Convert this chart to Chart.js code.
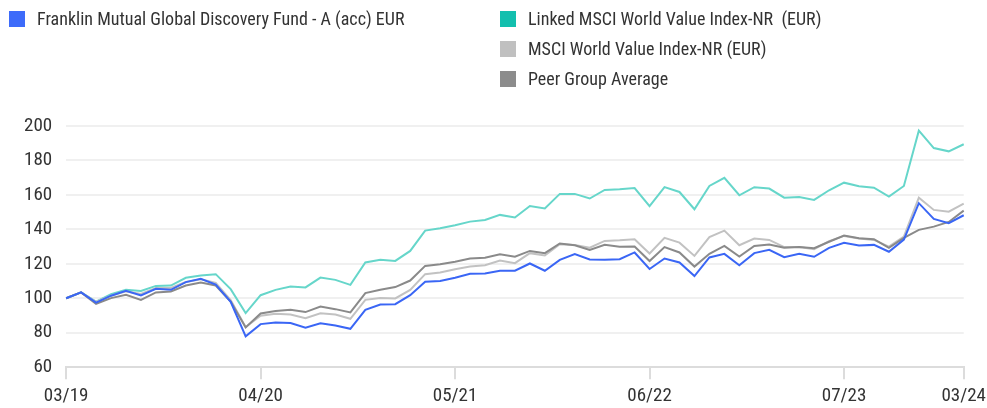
<!DOCTYPE html>
<html>
<head>
<meta charset="utf-8">
<script src="https://cdn.jsdelivr.net/npm/chart.js@4"></script>
<style>
  html, body { margin: 0; padding: 0; background: #fff; }
  body { width: 987px; height: 408px; position: relative; overflow: hidden;
         font-family: "Roboto Condensed", "Liberation Sans Narrow", Roboto, sans-serif; color: #333; }
  #legend { position: absolute; left: 9px; top: 0; width: 980px; }
  .item { position: absolute; display: flex; align-items: center; font-size: 18px; white-space: nowrap; }
  .sw { width: 16px; height: 16px; margin-right: 12px; }
  /* canvas a little wider than the page so the last month label may overhang, as in the source */
  #wrap { position: absolute; left: 0; top: 0; width: 992px; height: 408px; }
</style>
</head>
<body>
<div id="wrap"><canvas id="chart"></canvas></div>
<div id="legend"></div>
<script>
const months = ['03/19','04/19','05/19','06/19','07/19','08/19','09/19','10/19','11/19','12/19',
  '01/20','02/20','03/20','04/20','05/20','06/20','07/20','08/20','09/20','10/20','11/20','12/20',
  '01/21','02/21','03/21','04/21','05/21','06/21','07/21','08/21','09/21','10/21','11/21','12/21',
  '01/22','02/22','03/22','04/22','05/22','06/22','07/22','08/22','09/22','10/22','11/22','12/22',
  '01/23','02/23','03/23','04/23','05/23','06/23','07/23','08/23','09/23','10/23','11/23','12/23',
  '01/24','02/24','03/24'];
const tickLabels = ['03/19','04/20','05/21','06/22','07/23','03/24'];

const fund = [100, 103.4, 97.5, 101.5, 104.3, 101.6, 105.5, 104.9, 109.4, 111.3, 108, 98, 77.9, 85, 86, 85.6, 82.9, 85.5, 84.2, 82.3,
  93.3, 96.4, 96.6, 101.8, 109.6, 110, 111.9, 114.2, 114.4, 116, 116, 120.2, 116, 122.3, 125.6, 122.5, 122.3, 122.7, 126.6, 117,
  123.1, 120.8, 112.9, 123.7, 125.8, 119.2, 126.2, 128.1, 123.9, 125.8, 124.1, 129.3, 132.2, 130.6, 131, 127, 134.1, 155.2, 146.1, 143.6, 148.2];
const linkedIndex = [100, 103.4, 98.1, 102.4, 104.9, 104.3, 107.2, 107.4, 111.9, 113.2, 114, 105.3, 91.4, 101.8, 104.9, 106.8, 106.3, 112, 110.7, 107.8,
  120.8, 122.3, 121.7, 127.5, 139.3, 140.7, 142.4, 144.5, 145.5, 148.4, 146.9, 153.6, 152.1, 160.6, 160.6, 157.9, 162.9, 163.3, 164, 153.5,
  164.5, 161.7, 151.7, 165.2, 169.9, 159.8, 164.5, 163.7, 158.4, 158.8, 157.1, 162.7, 167.1, 165, 164.2, 159, 165.2, 197.3, 187.2, 185.3, 189.4];
const msciValue = [100, 103.4, 98, 101.5, 104, 102.5, 106, 106, 109.5, 111, 109, 99, 83.3, 89.9, 91, 90.6, 88.5, 91.3, 90.6, 88.1,
  99.1, 100.1, 99.9, 104.9, 114, 115, 116.9, 118.4, 119.2, 121.9, 120.4, 126.2, 124.8, 131.4, 131, 129.4, 133.3, 133.7, 134.3, 126,
  135.1, 132.3, 124.6, 135.5, 139.3, 130.8, 134.7, 133.9, 129.7, 129.7, 128.5, 133.2, 136.2, 134.7, 133.9, 130, 135.8, 158.4, 151.3, 150.3, 155];
const peerAvg = [100, 103.4, 96.8, 100.1, 102, 99.1, 103.4, 104, 107.4, 109.2, 107.4, 98.1, 83.1, 91.2, 92.6, 93.3, 92, 95.2, 93.7, 91.8,
  103, 104.9, 106.5, 110.3, 118.8, 119.8, 121.2, 123.1, 123.5, 125.6, 124.1, 127.5, 126.2, 131.8, 130.8, 128.1, 131, 129.9, 130, 121.6,
  129.7, 126.6, 118.4, 125.8, 130.4, 124.2, 130.4, 131.2, 129.3, 129.7, 129.1, 132.8, 136.4, 134.9, 134.3, 129.3, 135.1, 139.7, 141.6, 144.3, 150.9];

const series = [
  { label: 'Franklin Mutual Global Discovery Fund - A (acc) EUR', data: fund, line: '#3a66f5', box: '#3d6bfa', order: 1, pos: [0, 0] },
  { label: 'Linked MSCI World Value Index-NR  (EUR)', data: linkedIndex, line: '#66d6ca', box: '#13bfae', order: 4, pos: [491, 0] },
  { label: 'MSCI World Value Index-NR (EUR)', data: msciValue, line: '#c2c2c2', box: '#c0c0c0', order: 3, pos: [491, 30] },
  { label: 'Peer Group Average', data: peerAvg, line: '#8a8a8a', box: '#8c8c8c', order: 2, pos: [491, 60] }
];

// legend drawn as html, two columns like the source
const legend = document.getElementById('legend');
series.forEach(s => {
  const d = document.createElement('div');
  d.className = 'item';
  d.style.left = s.pos[0] + 'px';
  d.style.top = (s.pos[1] + 8) + 'px';
  d.innerHTML = '<span class="sw" style="background:' + s.box + '"></span><span>' + s.label.replace(/  /g, ' &nbsp;') + '</span>';
  legend.appendChild(d);
});

const fontFamily = '"Roboto Condensed", "Liberation Sans Narrow", Roboto, sans-serif';

new Chart(document.getElementById('chart'), {
  type: 'line',
  data: {
    labels: months,
    datasets: series.map(s => ({
      label: s.label,
      data: s.data,
      borderColor: s.line,
      backgroundColor: s.line,
      borderWidth: 2,
      pointRadius: 0,
      tension: 0,
      order: s.order
    }))
  },
  options: {
    responsive: true,
    maintainAspectRatio: false,
    animation: false,
    layout: { padding: { top: 126, left: 10, right: 0, bottom: -6 } },
    plugins: { legend: { display: false }, tooltip: { enabled: false } },
    scales: {
      x: {
        offset: false,
        afterBuildTicks: axis => {
          axis.ticks = axis.ticks.filter(t => tickLabels.includes(months[t.value]));
        },
        ticks: {
          autoSkip: false,
          maxRotation: 0,
          padding: 6,
          color: '#333',
          font: { family: fontFamily, size: 19 },
          callback: function (v) { return this.getLabelForValue(v); }
        },
        grid: { drawOnChartArea: false, drawTicks: true, tickLength: 12, color: '#dcdcdc', lineWidth: 2 },
        border: { display: true, color: '#dcdcdc', width: 2 }
      },
      y: {
        min: 60,
        max: 200,
        ticks: { stepSize: 20, padding: 14, color: '#333', font: { family: fontFamily, size: 19 } },
        grid: { color: '#f0f0f0', lineWidth: 2, drawTicks: false },
        border: { display: false }
      }
    }
  }
});
</script>
</body>
</html>
